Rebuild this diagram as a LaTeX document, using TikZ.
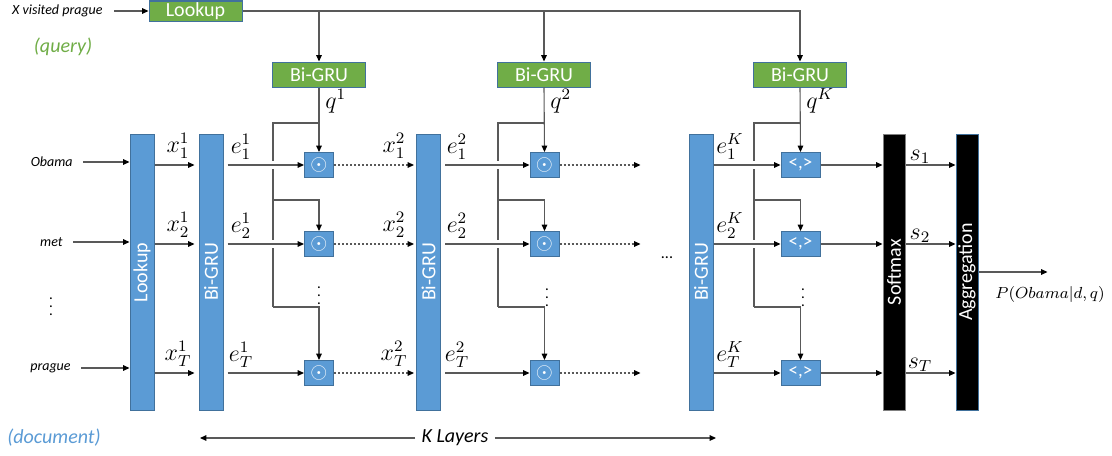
\documentclass[tikz,border=0pt]{standalone}
\usepackage{fontspec}
\setmainfont{Carlito}
\usetikzlibrary{arrows.meta,calc}
\definecolor{dblue}{HTML}{5B9BD5}
\definecolor{qgreen}{HTML}{70AD47}
\definecolor{edgeblue}{HTML}{41719C}
\definecolor{wire}{HTML}{595959}
\tikzset{
  wire/.style={draw=wire, line width=0.55pt},
  arr/.style={wire, -{Triangle[length=3.2pt,width=2.8pt,color=black]}},
  dotarr/.style={arr, dash pattern=on 1pt off 1pt},
  gbox/.style={fill=qgreen, draw=edgeblue, line width=0.5pt, text=white,
    font=\fontsize{10}{12}\selectfont, inner sep=0pt, minimum width=46.5pt},
  bar/.style={fill=dblue, draw=edgeblue, line width=0.5pt, text=white,
    font=\fontsize{10}{12}\selectfont, inner sep=0pt, minimum width=12pt, minimum height=138pt},
  kbar/.style={bar, fill=black, minimum width=11pt},
  opbox/.style={fill=dblue, draw=edgeblue, line width=0.5pt, text=white, inner sep=0pt,
    minimum width=14.5pt, minimum height=12.5pt, font=\fontsize{11}{12}\selectfont},
  kopbox/.style={opbox, minimum width=19.5pt, font=\fontsize{9.5}{11}\selectfont},
  word/.style={font=\fontsize{7}{8}\selectfont\itshape, inner sep=0pt},
  ml/.style={font=\fontsize{11.5}{13}\selectfont, inner sep=0pt},
  tag/.style={font=\fontsize{10}{12}\selectfont\itshape, inner sep=0pt},
  vd/.style={font=\fontsize{7.5}{9}\selectfont, inner sep=0pt},
}
\begin{document}
\begin{tikzpicture}[x=0.5pt,y=-0.5pt]
\useasboundingbox (0,0) rectangle (1112,455);

% ---------- query encoder ----------
\node[word, anchor=east] (qtext) at (103,11) {X visited prague};
\node[gbox, minimum height=10pt] (qlook) at (195.5,11) {Lookup};
\draw[arr, shorten <=5.5pt] (qtext.east) -- (qlook.west);
\node[tag, text=qgreen] (qtag) at (63,47) {(query)};

\node[gbox, minimum height=12.5pt] (qg1) at (319,74.5) {Bi-GRU};
\node[gbox, minimum height=12.5pt] (qg2) at (544,74.5) {Bi-GRU};
\node[gbox, minimum height=12.5pt] (qgK) at (800,74.5) {Bi-GRU};
\draw[arr] (qlook.east) -| (qgK.north);
\draw[arr] (qlook.east -| qg1.north) -- (qg1.north);
\draw[arr] (qlook.east -| qg2.north) -- (qg2.north);
\node[ml, anchor=west] (q1lab) at (325,101) {$q^{1}$};
\node[ml, anchor=west] (q2lab) at (550,101) {$q^{2}$};
\node[ml, anchor=west] (qKlab) at (806,101) {$q^{K}$};

% ---------- document encoder ----------
\node[bar] (dlook) at (142,272.5) {\rotatebox{90}{Lookup}};
\node[bar] (bg1) at (211,272) {\rotatebox{90}{Bi-GRU}};
\node[bar] (bg2) at (428.5,272) {\rotatebox{90}{Bi-GRU}};
\node[bar] (bgK) at (701,272) {\rotatebox{90}{Bi-GRU}};
\node[kbar, draw=gray] (soft) at (894,272) {\rotatebox{90}{Softmax}};
\node[kbar] (agg) at (967,272) {\rotatebox{90}{Aggregation}};
\node[tag, text=dblue] (dtag) at (54,438) {(document)};

% input words
\node[word, anchor=east] (w1) at (73,162) {Obama};
\node[word, anchor=east] (w2) at (63,242) {met};
\node[vd] (wdots) at (51,301) {$\vdots$};
\node[word, anchor=east] (w3) at (71,368) {prague};
\foreach \i in {1,2,3}
  \draw[arr, shorten <=5pt] (w\i.east) -- (w\i.east -| dlook.west);

% row levels
\coordinate (r1) at (0,165);
\coordinate (r2) at (0,244);
\coordinate (r3) at (0,373);

% interaction units
\foreach \r in {1,2,3}{
  \node[opbox] (op1\r) at (319,0 |- r\r) {$\odot$};
  \node[opbox] (op2\r) at (544.5,0 |- r\r) {$\odot$};
  \node[kopbox] (opK\r) at (800.5,0 |- r\r) {<,>};
}

% query to units, with branches
\foreach \L/\bx in {1/273, 2/498, K/754}{
  \coordinate (bt\L) at (\bx,123);
  \coordinate (bm\L) at (\bx,200);
  \coordinate (bb\L) at (\bx,307);
  \draw[arr] (qg\L.south) -- (op\L1.north);
  \draw[wire] (bt\L -| op\L1) -- (bt\L) -- ($(bt\L |- op\L1)+(0,-4)$);
  \draw[wire] ($(bt\L |- op\L1)+(0,4)$) -- ($(bt\L |- op\L2)+(0,-4)$);
  \draw[wire] ($(bt\L |- op\L2)+(0,4)$) -- (bb\L);
  \draw[arr] (bm\L) -| (op\L2.north);
  \draw[arr] (bb\L) -| (op\L3.north);
}

% vertical ellipses between rows
\node[vd] (d1) at (319,290) {$\vdots$};
\node[vd] (d2) at (547,292) {$\vdots$};
\node[vd] (dK) at (803,292) {$\vdots$};
\node[font=\fontsize{8}{9}\selectfont, inner sep=0pt] (hdots) at (667,258) {...};

% per-row connections through the layers
\foreach \r/\s in {1/1,2/2,3/T}{
  \draw[arr, shorten >=2pt] (dlook.east |- r\r) -- (bg1.west |- r\r);
  \node[ml, anchor=south] (x1\r) at ($(178,0)+(0,0 |- r\r)+(0,-6)$) {$x_{\s}^{1}$};
  \draw[arr, shorten <=2pt] (bg1.east |- op1\r) -- (op1\r.west);
  \node[ml, anchor=south] (e1\r) at ($(241,0)+(0,0 |- r\r)+(0,-5)$) {$e_{\s}^{1}$};
  \draw[dotarr, shorten >=1pt] (op1\r.east) -- (bg2.west |- op1\r);
  \node[ml, anchor=south] (x2\r) at ($(394,0)+(0,0 |- r\r)+(0,-6)$) {$x_{\s}^{2}$};
  \draw[arr, shorten <=2pt] (bg2.east |- op2\r) -- (op2\r.west);
  \node[ml, anchor=south] (e2\r) at ($(457,0)+(0,0 |- r\r)+(0,-5)$) {$e_{\s}^{2}$};
  \draw[dotarr] (op2\r.east) -- ++(81,0) coordinate (o2\r);
  \draw[arr] (bgK.east |- opK\r) -- (opK\r.west);
  \node[ml, anchor=south] (eK\r) at ($(730,0)+(0,0 |- r\r)+(0,-5)$) {$e_{\s}^{K}$};
  \draw[arr] (opK\r.east) -- (soft.west |- opK\r);
  \draw[arr] (soft.east |- opK\r) -- (agg.west |- opK\r);
  \node[ml, anchor=south] (s\r) at ($(920,0)+(0,0 |- r\r)+(0,-1)$) {$s_{\s}$};
}

% output
\draw[arr] (agg.east) -- ++(69,0) coordinate (pout);
\node[font=\fontsize{8.5}{10}\selectfont, inner sep=0pt] (plab) at (1050,294) {$P(Obama|d,q)$};

% layer span
\node[tag, inner sep=3pt] (klab) at (455,438) {K Layers};
\coordinate (kl) at (200,438);
\coordinate (kr) at (716,438);
\draw[arr] (klab.west) -- (kl);
\draw[arr] (klab.east) -- (kr);
\end{tikzpicture}
\end{document}
